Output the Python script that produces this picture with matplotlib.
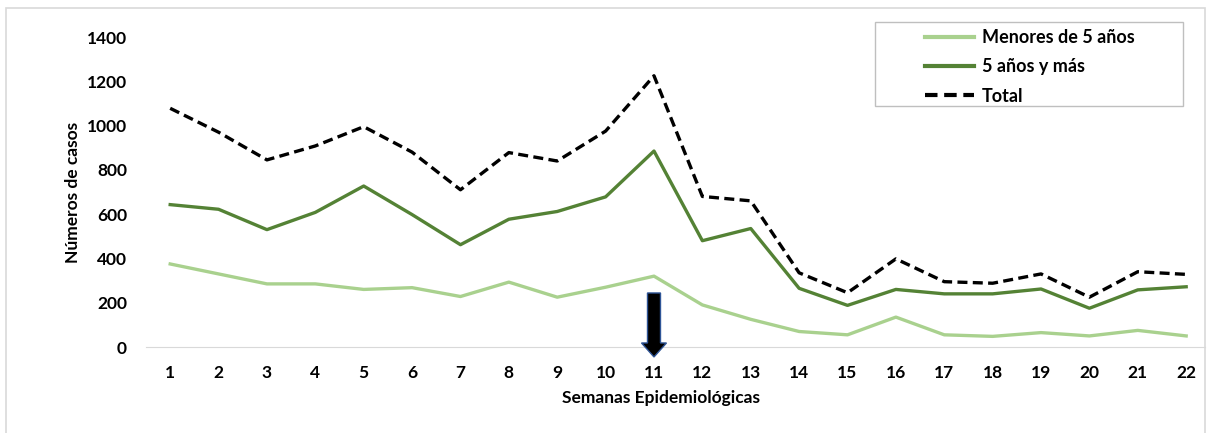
import matplotlib.pyplot as plt
from matplotlib.patches import Rectangle, FancyArrow

plt.rcParams['font.family'] = ['Lato', 'DejaVu Sans']

semanas = list(range(1, 23))
menores_5 = [375, 330, 285, 285, 260, 268, 228, 293, 225, 270, 320,
             190, 125, 70, 55, 135, 55, 48, 65, 50, 75, 50]
mayores_5 = [643, 622, 530, 608, 727, 598, 462, 577, 612, 678, 885,
             480, 535, 265, 188, 260, 240, 240, 262, 175, 258, 272]
total = [1078, 970, 845, 908, 995, 880, 710, 878, 840, 975, 1225,
         680, 660, 335, 245, 398, 295, 288, 330, 225, 340, 328]
yticks = [0, 200, 400, 600, 800, 1000, 1200, 1400]
semana_flecha = 11

W, H = 1208, 433
fig = plt.figure(figsize=(W / 100, H / 100), dpi=100)

# light gray frame around the chart area (cut at the bottom)
fig.patches.append(Rectangle((6 / W, -0.05), (1205 - 6) / W, 1.05 - 8 / H,
                             transform=fig.transFigure, fill=False,
                             edgecolor='#D9D9D9', linewidth=1.2))

ax = fig.add_axes([146 / W, (H - 347) / H, (1205 - 146) / W, (347 - 37) / H])

ax.plot(semanas, menores_5, color='#A9D18E', linewidth=2.4, label='Menores de 5 años')
ax.plot(semanas, mayores_5, color='#548235', linewidth=2.4, label='5 años y más')
ax.plot(semanas, total, color='black', linewidth=2.4, linestyle=(0, (3, 1.6)), label='Total')

# arrow pointing at week 11 (shaft ~13 px, head ~25 px wide)
xpx = 48.38  # pixels per week
ypx = 310 / 1400  # pixels per case
ax.add_patch(FancyArrow(semana_flecha, 244, 0, -289, width=13 / xpx,
                        head_width=25 / xpx, head_length=14 / ypx,
                        length_includes_head=True, facecolor='black',
                        edgecolor='#2F5597', linewidth=1, clip_on=False, zorder=5))

ax.set_xlim(0.5, 0.5 + (1205 - 146) / xpx)
ax.set_ylim(0, 1400)
ax.set_xticks(semanas)
ax.set_yticks(yticks)
ax.tick_params(length=0, labelsize=12.5)
ax.tick_params(axis='x', pad=13)
ax.tick_params(axis='y', pad=13.7)
for lab in ax.get_xticklabels() + ax.get_yticklabels():
    lab.set_fontweight('bold')

for side in ['top', 'right', 'left']:
    ax.spines[side].set_visible(False)
ax.spines['bottom'].set_color('#D9D9D9')

ax.set_xlabel('Semanas Epidemiológicas', fontsize=12.5, fontweight='bold')
ax.xaxis.set_label_coords((661 - 146) / (1205 - 146), -(390 - 347) / 310)
ax.set_ylabel('Números de casos', fontsize=12.5, fontweight='bold')
ax.yaxis.set_label_coords(-(146 - 81) / (1205 - 146), 0.5)

# legend box drawn separately so the entries sit centred with wide margins
ax.add_patch(Rectangle((875 / W, (H - 106) / H), (1183 - 875) / W, (106 - 22) / H,
                       transform=fig.transFigure, facecolor='white',
                       edgecolor='#BFBFBF', linewidth=1, zorder=6, clip_on=False))
leg = ax.legend(loc='upper left', bbox_to_anchor=(925 / W, (H - 29) / H),
                bbox_transform=fig.transFigure,
                prop={'weight': 'bold', 'size': 13}, frameon=False,
                handlelength=2.7, handletextpad=0.45, borderpad=0,
                labelspacing=0.68, borderaxespad=0)
leg.set_zorder(7)
for line in leg.get_lines():
    line.set_linewidth(3)

fig.savefig('out.png', dpi=100)
